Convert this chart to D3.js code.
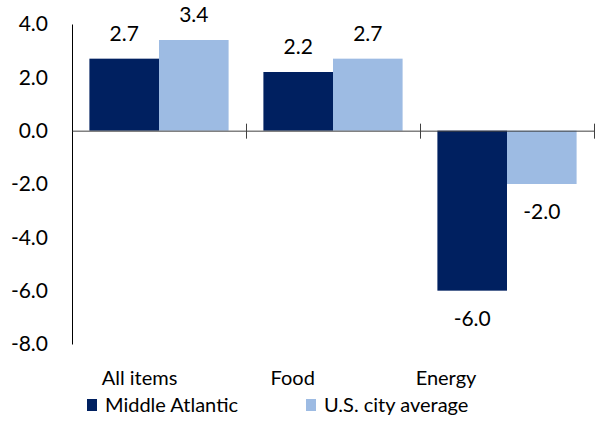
<!DOCTYPE html>
<html><head><meta charset="utf-8">
<script src="https://cdn.jsdelivr.net/npm/d3@7"></script>
<style>body{margin:0;background:#fff}svg{display:block}</style>
</head><body>
<svg id="c" width="595" height="421"></svg>
<script>
const categories = ["All items", "Food", "Energy"];
const seriesNames = ["Middle Atlantic", "U.S. city average"];
const middleAtlantic = [2.7, 2.2, -6.0];
const usCityAverage = [3.4, 2.7, -2.0];
const yTicks = [4, 2, 0, -2, -4, -6, -8];
const colors = ["#002060", "#9dbbe3"];

const font = "Lato, sans-serif";
const svg = d3.select("#c");
const series = [middleAtlantic, usCityAverage];
const fmt = d => d.toFixed(1);

const y = d3.scaleLinear().domain([-8, 4]).range([344, 24]);
const x = d3.scaleBand().domain(categories).range([72, 594]).paddingInner(0.2).paddingOuter(0.1);
const xi = d3.scaleBand().domain(seriesNames).range([0, x.bandwidth()]);
const xLabel = d3.scalePoint().domain(categories).range([139.5, 446]);

// bars
seriesNames.forEach((s, si) => {
  svg.append("g").selectAll("rect").data(categories).join("rect")
    .attr("x", c => x(c) + xi(s))
    .attr("width", xi.bandwidth())
    .attr("y", (c, i) => y(Math.max(0, series[si][i])))
    .attr("height", (c, i) => Math.abs(y(series[si][i]) - y(0)))
    .attr("fill", colors[si]);
  svg.append("g").selectAll("text").data(categories).join("text")
    .attr("x", c => x(c) + xi(s) + xi.bandwidth() / 2)
    .attr("y", (c, i) => series[si][i] >= 0 ? y(series[si][i]) - 18 : y(series[si][i]) + 35)
    .attr("text-anchor", "middle")
    .attr("font-family", font).attr("font-size", 21).attr("fill", "#000")
    .text((c, i) => fmt(series[si][i]));
});

// y axis
const yAxis = svg.append("g").attr("transform", "translate(72,0)")
  .call(d3.axisLeft(y).tickValues(yTicks).tickSize(0).tickPadding(24).tickFormat(fmt));
yAxis.select(".domain").attr("stroke", "#000").attr("stroke-width", 1);
yAxis.selectAll("text").attr("font-family", font).attr("font-size", 21).attr("fill", "#000");

// x axis line at zero with boundary ticks
const xb = d3.scaleLinear().domain([0, 3]).range([72, 594]);
const xAxis = svg.append("g").attr("transform", `translate(0,${y(0)})`)
  .call(d3.axisBottom(xb).tickValues([1, 2, 3]).tickSize(7).tickSizeOuter(0).tickFormat(""));
xAxis.select(".domain").attr("stroke", "#404040");
xAxis.selectAll(".tick line").attr("stroke", "#404040").attr("y1", -7).attr("y2", 8);

// category labels
svg.append("g").selectAll("text").data(categories).join("text")
  .attr("x", c => xLabel(c)).attr("y", 385)
  .attr("text-anchor", "middle")
  .attr("font-family", font).attr("font-size", 20).attr("fill", "#000")
  .text(c => c);

// legend
const legX = d3.scalePoint().domain(seriesNames).range([87, 306]);
const leg = svg.append("g").selectAll("g").data(seriesNames).join("g")
  .attr("transform", s => `translate(${legX(s)},399)`);
leg.append("rect").attr("width", 10).attr("height", 12).attr("fill", (s, i) => colors[i]);
leg.append("text").attr("x", 18).attr("y", 13)
  .attr("font-family", font).attr("font-size", 20).attr("fill", "#000")
  .text(s => s);
</script>
</body></html>
